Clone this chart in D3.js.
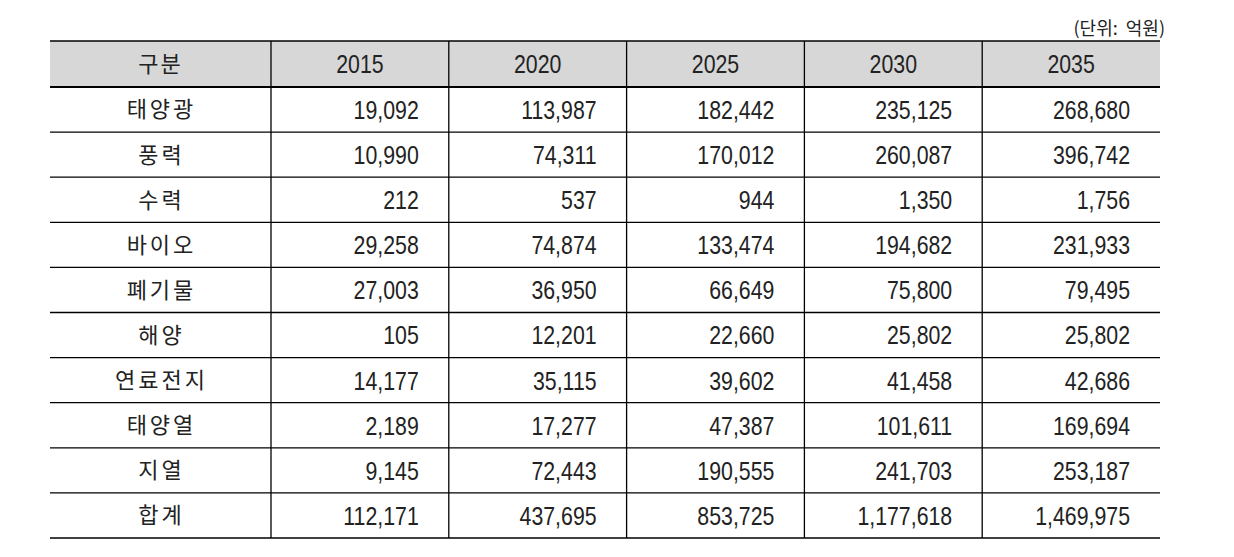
<!DOCTYPE html>
<html>
<head>
<meta charset="utf-8">
<script src="https://cdn.jsdelivr.net/npm/d3@7"></script>
<style>
  body { margin: 0; background: #fff; }
  .num { font-family: "Liberation Sans", Arial, sans-serif; }
  .kor { font-family: "Noto Sans CJK KR", sans-serif; }
</style>
</head>
<body>
<div id="chart"></div>
<script>
// table data
var years = ["2015", "2020", "2025", "2030", "2035"];
var categories = ["태양광", "풍력", "수력", "바이오", "폐기물", "해양", "연료전지", "태양열", "지열", "합계"];
var v2015 = [19092, 10990, 212, 29258, 27003, 105, 14177, 2189, 9145, 112171];
var v2020 = [113987, 74311, 537, 74874, 36950, 12201, 35115, 17277, 72443, 437695];
var v2025 = [182442, 170012, 944, 133474, 66649, 22660, 39602, 47387, 190555, 853725];
var v2030 = [235125, 260087, 1350, 194682, 75800, 25802, 41458, 101611, 241703, 1177618];
var v2035 = [268680, 396742, 1756, 231933, 79495, 25802, 42686, 169694, 253187, 1469975];
var headerLabel = "구분";
var unitLabel = "(단위:  억원)";

var series = [v2015, v2020, v2025, v2030, v2035];

var W = 1234, H = 557;
var tLeft = 50, firstColRight = 271, tRight = 1160;
var tTop = 41, headBottom = 87, tBottom = 538;
var narrow = 0.82; // squeeze numbers horizontally, the original uses a narrow face

var svg = d3.select("#chart").append("svg")
    .attr("width", W)
    .attr("height", H);

// scales for columns and rows
var xScale = d3.scaleBand().domain(years).range([firstColRight, tRight]);
var yScale = d3.scaleBand().domain(categories).range([headBottom, tBottom]);

// header background
svg.append("rect")
    .attr("x", tLeft).attr("y", tTop)
    .attr("width", tRight - tLeft).attr("height", headBottom - tTop)
    .attr("fill", "#d7d7d7");

// horizontal lines
svg.append("line")
    .attr("x1", tLeft).attr("x2", tRight)
    .attr("y1", tTop).attr("y2", tTop)
    .attr("stroke", "#000").attr("stroke-width", 1.5);

svg.append("line")
    .attr("x1", tLeft).attr("x2", tRight)
    .attr("y1", headBottom).attr("y2", headBottom)
    .attr("stroke", "#000").attr("stroke-width", 2);

svg.selectAll(".hline")
    .data(categories)
    .enter()
    .append("line")
    .attr("x1", tLeft).attr("x2", tRight)
    .attr("y1", d => yScale(d) + yScale.bandwidth())
    .attr("y2", d => yScale(d) + yScale.bandwidth())
    .attr("stroke", "#000").attr("stroke-width", 1.3);

// vertical lines
svg.selectAll(".vline")
    .data(years)
    .enter()
    .append("line")
    .attr("x1", d => xScale(d)).attr("x2", d => xScale(d))
    .attr("y1", tTop).attr("y2", tBottom)
    .attr("stroke", "#000").attr("stroke-width", 1.3);

// unit label
svg.append("text")
    .attr("class", "kor")
    .attr("x", 1165).attr("y", 35)
    .attr("text-anchor", "end")
    .style("font-size", "18px")
    .style("white-space", "pre")
    .attr("fill", "#222")
    .text(unitLabel);

var headMid = (tTop + headBottom) / 2;

// header
svg.append("text")
    .attr("class", "kor")
    .attr("x", (tLeft + firstColRight) / 2).attr("y", headMid)
    .attr("dy", "0.36em")
    .attr("text-anchor", "middle")
    .style("font-size", "22px")
    .style("letter-spacing", "2px")
    .attr("fill", "#222")
    .text(headerLabel);

svg.selectAll(".year")
    .data(years)
    .enter()
    .append("text")
    .attr("class", "num")
    .attr("transform", d => `translate(${xScale(d) + xScale.bandwidth() / 2},${headMid}) scale(${narrow},1)`)
    .attr("dy", "0.36em")
    .attr("text-anchor", "middle")
    .style("font-size", "26px")
    .attr("fill", "#222")
    .text(d => d);

// row labels
svg.selectAll(".cat")
    .data(categories)
    .enter()
    .append("text")
    .attr("class", "kor")
    .attr("x", (tLeft + firstColRight) / 2 + 1)
    .attr("y", d => yScale(d) + yScale.bandwidth() / 2)
    .attr("dy", "0.36em")
    .attr("text-anchor", "middle")
    .style("font-size", "22px")
    .style("letter-spacing", "3px")
    .attr("fill", "#222")
    .text(d => d);

// values
var fmt = d3.format(",");
series.forEach(function(vals, i) {
    var yr = years[i];
    var xr = xScale(yr) + xScale.bandwidth() - 30;
    svg.selectAll(".val" + yr)
        .data(vals)
        .enter()
        .append("text")
        .attr("class", "num")
        .attr("transform", (d, j) => `translate(${xr},${yScale(categories[j]) + yScale.bandwidth() / 2}) scale(${narrow},1)`)
        .attr("dy", "0.36em")
        .attr("text-anchor", "end")
        .style("font-size", "26px")
        .attr("fill", "#222")
        .text(d => fmt(d));
});
</script>
</body>
</html>
